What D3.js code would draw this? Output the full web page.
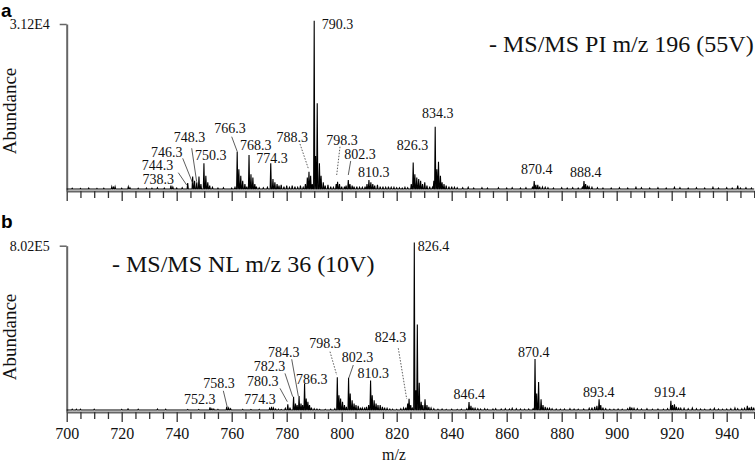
<!DOCTYPE html>
<html><head><meta charset="utf-8">
<script src="https://cdn.jsdelivr.net/npm/d3@7/dist/d3.min.js"></script>
<style>
body{margin:0;background:#fff;}
svg{display:block;font-family:"Liberation Serif","Times New Roman",serif;}
</style></head>
<body><div id="chart"></div>
<script>
// ---------- data ----------
const mzDomain = [700, 950];
const xMajorTicks = [700,720,740,760,780,800,820,840,860,880,900,920,940];
const yTopLabelA = "3.12E4";
const yTopLabelB = "8.02E5";
const titleA = "- MS/MS PI m/z 196 (55V)";
const titleB = "- MS/MS NL m/z 36 (10V)";

// panel a spectrum (m/z, relative abundance %)
const mzA = [702,705,708,711,713.5,716.4,717,717.6,720,722.4,723,726,729,731,733,735.5,737.9,738.6,740,742,744,745.8,746.5,747.3,748.1,748.8,749.9,750.6,751.3,752,753,755,757,760,761.2,762,762.6,763.3,764,764.8,765.5,766.3,767,767.7,768.4,769,770,771.5,773,774.2,775,775.7,776.5,777.2,778,779,780,781,782,783,784,785,786,786.8,787.5,788.1,788.7,789.3,790,790.5,791.1,791.9,792.5,793.3,794,795,796,797,798,798.5,799.2,800,801,801.6,802.4,803,803.8,804.5,805.5,806.5,807.5,808.5,809.2,809.9,810.6,811.3,812,813,814,815,816,817,818,819,820,821,822,823,824,825.3,826,826.6,827.3,828,828.7,829.4,830.2,831,832,833,833.5,834,834.6,835.2,835.9,836.5,837.2,838,839,840,841,842,844,846,848,851,853,857,860,862,865,867,869.4,870,870.6,871.3,872,873,874,875,877,880,882,884,886,887.5,888.1,888.7,889.4,890,891,893,895,898,901,904,907,909,912,915,918,921,923,926,929,932,935,937,940,942,944,945,947,949];
const intA = [0.5,0.4,0.6,0.4,0.5,1.4,1.0,1.4,0.5,1.4,0.8,0.5,0.6,0.5,0.8,0.6,2.0,1.2,0.6,0.8,3.6,7.5,5,4,7.5,3,15.6,8,4,2,1,0.6,0.8,0.6,1,22.6,12,8,5,3,1.5,20.6,9,7,3,1.5,0.8,0.8,1,15.6,6,4,3,2,2.5,1.5,2,1,2,1.5,1,2,1,3,7,10.5,8,3,102,20,52,15.6,8,4,2,2.5,1.5,1,3,4.4,3,1.5,1.5,2,5.5,3,2,1.5,1.5,1,1,1.5,3,5.5,4,3,2,2.5,1.5,1.5,1,1.5,1,1,0.8,0.8,0.6,1,0.8,3,16,9,7,6,5,3,4,2,1.5,1,5,37.8,12,16.5,8,4,3,2,1.5,1.5,1,0.8,0.8,1,0.6,0.8,0.6,0.8,0.6,0.8,0.6,0.8,1.5,4.8,2.5,2.5,1.5,1.2,1,0.8,0.6,0.8,0.6,0.8,0.6,1,4.8,3,2,1.2,1,0.8,0.6,0.6,0.8,0.6,1,0.8,0.6,0.8,0.6,1,0.8,0.6,0.8,0.6,1,0.6,0.8,0.6,2,0.6,0.8,0.6];

// panel b spectrum
const mzB = [702,703.5,705,710,720,722.3,726,733,736,744,748,752.1,752.8,753.5,755,758.2,758.9,759.6,764,767,770,773.8,774.5,775.2,776,777,778,779.5,780.4,781.2,782.5,783.2,783.8,784.5,785.2,785.8,786.5,787.1,787.7,788.3,789,790,791,792,794,796,797.5,798.4,799,799.6,800.3,801,801.7,802.5,803.1,803.8,804.5,805.2,806,806.8,807.5,808.3,809,809.8,810.5,811.1,811.8,812.5,813.2,814,814.8,815.6,816.5,817.5,818.5,820,821.5,822.5,823.3,824,824.5,825.1,825.7,826.4,827,827.5,828.2,828.9,829.5,830.3,831,831.7,832.5,833.5,835,836.5,838,840,842,843.5,845.5,846.3,847,847.7,848.5,849.5,850.5,852,853,855,856,858,859.5,861,862,863.5,865,866.5,868,869.6,870.3,870.9,871.6,872.5,873.2,874,874.8,875.6,876.5,878,879.5,881,883,884.5,886,888,890,891,892,892.8,893.6,894.2,895,896,897.5,899,900.5,902,904,904.8,905.5,906.3,907.5,909,911,913,915,917,918.5,919.7,920.3,921,921.7,922.5,923.3,924.5,926,927.5,929,930.5,932,934,935.5,937,938.5,940,941.5,943,944,945.5,946.5,947.5,948.2,949,949.8];
const intB = [0.5,0.5,0.5,0.5,0.4,0.7,0.5,0.6,0.5,0.3,0.3,1.6,0.8,0.6,0.4,2,1.2,0.8,0.4,0.3,0.4,1,2,1.2,0.6,0.5,0.3,1,3.5,1.5,8,4,3,8.5,4,3,16,7,5,3,1.5,0.8,0.6,0.4,0.4,0.5,0.8,20,9,7,5,3,2,19.6,10,6,4,3,2.5,1.5,1.2,1,2,3,18,9,6,4,3,3,2,1.5,1,0.6,0.5,0.4,0.8,1.2,1.5,4,6.9,3,1,102,12,52,16.6,5,3,6.5,3,2,1.2,0.8,0.5,0.6,0.4,0.5,0.4,0.5,0.8,4.8,2.5,1.5,1,0.8,0.6,0.8,0.5,0.6,0.8,0.6,0.8,0.6,1,0.8,0.6,0.5,0.6,0.8,31,10,17,6.5,3,2,1.5,1,0.8,0.6,0.5,0.6,0.8,0.6,0.5,0.6,1,1.5,2,2.5,6.5,3,1.5,0.8,0.5,0.5,0.6,0.5,0.8,2,1.5,1,0.8,0.6,0.8,0.5,0.6,0.5,0.8,5.6,3,3.5,2,1.5,1,1,0.8,1.2,0.8,0.6,0.5,0.6,1,0.6,0.5,0.6,0.8,1.2,0.8,0.8,1,2.5,1.5,2,1.5];

// peak annotations: text, label anchor (m/z, abundance), anchor type
const labelTextA = ["790.3","834.3","826.3","810.3","802.3","798.3","788.3","774.3","768.3","766.3","750.3","748.3","746.3","744.3","738.3","870.4","888.4"];
const labelMzA   = [792.7,834.95,825.75,811.67,806.65,800.11,782.0,774.65,768.76,759.38,752.4,744.65,736.36,733.02,733.3,870.9,888.76];
const labelIntA  = [96.8,42.8,23.6,7.45,18.2,26.7,28.7,15.9,23.6,33.8,17.6,28.7,19.6,11.7,3.3,9.1,7.45];
const labelAnchorA = ["start","middle","middle","middle","middle","middle","middle","middle","middle","middle","middle","middle","middle","middle","middle","middle","middle"];
// leader lines: from (mz1,int1) to (mz2,int2), dotted flag
const leadMz1A = [760.0,745.45,742.18,740.58,784.84,799.38,803.27];
const leadInt1A = [31.7,24.7,18.6,9.9,27.3,25.6,17];
const leadMz2A = [762.04,747.27,745.82,743.64,787.85,798.18,802.4];
const leadInt2A = [22.6,4.4,3.5,2.4,12.5,8.5,8.5];
const leadDotA = [false,false,false,false,true,true,false];

const labelTextB = ["826.4","870.4","846.4","893.4","919.4","824.3","810.3","802.3","798.3","786.3","784.3","782.3","780.3","774.3","758.3","752.3"];
const labelMzB   = [827.64,869.85,846.4,893.5,919.4,817.75,811.5,805.75,793.93,789.1,778.95,773.75,771.3,770.3,755.38,748.36];
const labelIntB  = [97.0,32.4,6.5,8.1,7.7,41.6,19.3,29.0,37.6,15.8,32.4,23.9,14.8,3.5,13.2,3.65];
const labelAnchorB = ["start","middle","middle","middle","middle","middle","middle","middle","middle","middle","middle","middle","middle","middle","middle","middle"];
const leadMz1B = [820.58,804.22,795.75,781.82,779.38,777.56,756.95];
const leadInt1B = [37.6,27.4,35.5,30.9,22.3,13.2,11.7];
const leadMz2B = [823.64,802.55,798.18,784.22,782.18,780.22,758.4];
const leadInt2B = [6.7,19.3,21.3,8.5,8.1,5.05,1.6];
const leadDotB = [true,false,true,false,false,false,false];

// ---------- drawing ----------
const W = 755, H = 463;
const SERIF = "'Liberation Serif','Times New Roman',serif";
const svg = d3.select("#chart").append("svg").attr("width", W).attr("height", H);
const x = d3.scaleLinear().domain(mzDomain).range([66.7, 754.2]);
const axisColor = "#666";

function panel(opt){
  const y = d3.scaleLinear().domain([-1.2, 100]).range([opt.bottom, opt.top]);
  const g = svg.append("g");
  const pts = [[mzDomain[0], 0]];
  opt.mz.forEach((m, i) => {
    pts.push([m - 0.22, 0], [m, opt.int[i]], [m + 0.22, 0]);
  });
  pts.push([mzDomain[1], 0]);
  const line = d3.line().x(d => x(d[0])).y(d => y(d[1]));
  const minor = d3.range(mzDomain[0], mzDomain[1] + 0.1, 5).filter(v => v % 20 !== 0);
  g.append("g").attr("transform", `translate(0,${y(-1.2)})`)
    .call(d3.axisBottom(x).tickValues(minor).tickSize(7).tickSizeOuter(0).tickFormat(""))
    .call(a => a.select(".domain").attr("stroke", axisColor).attr("stroke-width", 2))
    .call(a => a.selectAll(".tick line").attr("stroke", "#333").attr("stroke-width", 1.3));
  const major = g.append("g").attr("transform", `translate(0,${y(-1.2)})`)
    .call(d3.axisBottom(x).tickValues(xMajorTicks).tickSize(10).tickSizeOuter(0)
      .tickPadding(6).tickFormat(opt.xlabels ? d3.format("d") : ""));
  major.select(".domain").remove();
  major.selectAll(".tick line").attr("stroke", "#333").attr("stroke-width", 1.3);
  major.selectAll(".tick text").attr("font-family", SERIF).attr("font-size", 16).attr("fill", "#111");
  g.append("g").attr("transform", `translate(${x(mzDomain[0])},0)`)
    .call(d3.axisLeft(y).tickValues([100]).tickSize(7).tickSizeOuter(0).tickPadding(10).tickFormat(() => opt.ytop))
    .call(a => a.select(".domain").attr("stroke", axisColor).attr("stroke-width", 2))
    .call(a => a.selectAll(".tick line").attr("stroke", axisColor).attr("stroke-width", 1.5))
    .call(a => a.selectAll(".tick text").attr("font-family", SERIF).attr("font-size", 14).attr("fill", "#111"));
  g.append("path").datum(pts).attr("d", line).attr("fill", "none")
    .attr("stroke", "#000").attr("stroke-width", 1.1).attr("stroke-linejoin", "miter");
  opt.l1.forEach((m, i) => {
    g.append("line").attr("x1", x(m)).attr("y1", y(opt.li1[i]))
      .attr("x2", x(opt.l2[i])).attr("y2", y(opt.li2[i]))
      .attr("stroke", "#333").attr("stroke-width", 0.8)
      .attr("stroke-dasharray", opt.ld[i] ? "1.5,1.5" : null);
  });
  opt.lt.forEach((t, i) => {
    g.append("text").attr("x", x(opt.lm[i])).attr("y", y(opt.lint[i]))
      .attr("text-anchor", opt.la[i]).attr("font-family", SERIF).attr("font-size", 14)
      .attr("fill", "#111").text(t);
  });
  g.append("text").attr("x", opt.titleX).attr("y", opt.titleY).attr("font-family", SERIF)
    .attr("font-size", 24).attr("fill", "#111").text(opt.title);
  g.append("text").attr("transform", `translate(16,${opt.abY}) rotate(-90)`)
    .attr("text-anchor", "middle").attr("font-family", SERIF).attr("font-size", 19)
    .attr("fill", "#111").text("Abundance");
  g.append("text").attr("x", 1).attr("y", opt.letterY).attr("font-family", "'Liberation Sans',Arial,sans-serif")
    .attr("font-weight", "bold").attr("font-size", 19).attr("fill", "#000").text(opt.letter);
}

panel({top: 24, bottom: 191, mz: mzA, int: intA, ytop: yTopLabelA, xlabels: false,
  lt: labelTextA, lm: labelMzA, lint: labelIntA, la: labelAnchorA,
  l1: leadMz1A, li1: leadInt1A, l2: leadMz2A, li2: leadInt2A, ld: leadDotA,
  title: titleA, titleX: 489, titleY: 52, letter: "a", letterY: 17, abY: 111});
panel({top: 245.7, bottom: 412, mz: mzB, int: intB, ytop: yTopLabelB, xlabels: true,
  lt: labelTextB, lm: labelMzB, lint: labelIntB, la: labelAnchorB,
  l1: leadMz1B, li1: leadInt1B, l2: leadMz2B, li2: leadInt2B, ld: leadDotB,
  title: titleB, titleX: 112, titleY: 272, letter: "b", letterY: 228, abY: 337});

svg.append("text").attr("x", x(819)).attr("y", 460).attr("text-anchor", "middle")
  .attr("font-family", SERIF).attr("font-size", 16).attr("fill", "#111").text("m/z");
</script></body></html>
